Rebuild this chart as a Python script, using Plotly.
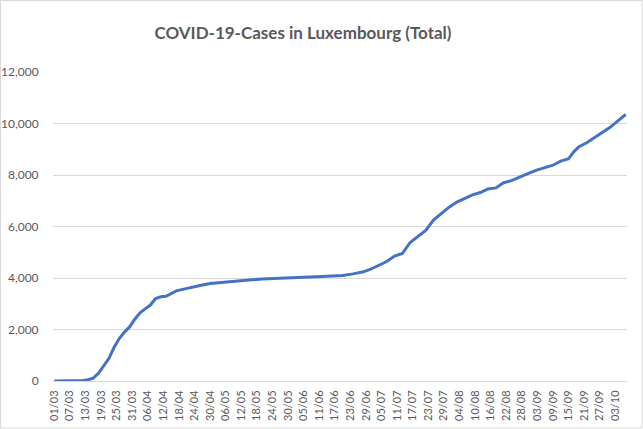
import plotly.graph_objects as go

dates = [
    "2020-03-01", "2020-03-05", "2020-03-09", "2020-03-12", "2020-03-14", "2020-03-16",
    "2020-03-18", "2020-03-20", "2020-03-22", "2020-03-24", "2020-03-26", "2020-03-28",
    "2020-03-30", "2020-04-01", "2020-04-03", "2020-04-05", "2020-04-07", "2020-04-09",
    "2020-04-11", "2020-04-13", "2020-04-15", "2020-04-17", "2020-04-19", "2020-04-21",
    "2020-04-24", "2020-04-27", "2020-04-30", "2020-05-04", "2020-05-08", "2020-05-12",
    "2020-05-16", "2020-05-20", "2020-05-25", "2020-05-31", "2020-06-05", "2020-06-10",
    "2020-06-15", "2020-06-20", "2020-06-24", "2020-06-28", "2020-07-01", "2020-07-04",
    "2020-07-07", "2020-07-10", "2020-07-13", "2020-07-16", "2020-07-19", "2020-07-22",
    "2020-07-25", "2020-07-28", "2020-07-31", "2020-08-03", "2020-08-06", "2020-08-09",
    "2020-08-12", "2020-08-15", "2020-08-18", "2020-08-21", "2020-08-24", "2020-08-27",
    "2020-08-31", "2020-09-03", "2020-09-06", "2020-09-09", "2020-09-12", "2020-09-15",
    "2020-09-17", "2020-09-19", "2020-09-22", "2020-09-25", "2020-09-28", "2020-10-01",
    "2020-10-04", "2020-10-07",
]
cases = [
    1, 2, 5, 20, 50, 110,
    300, 600, 870, 1300, 1650, 1900,
    2100, 2400, 2650, 2800, 2950, 3200,
    3270, 3290, 3400, 3500, 3550, 3600,
    3680, 3730, 3790, 3830, 3870, 3900,
    3930, 3960, 3990, 4010, 4030, 4050,
    4070, 4100, 4160, 4240, 4350, 4500,
    4640, 4850, 4950, 5380, 5600, 5850,
    6250, 6500, 6750, 6950, 7100, 7230,
    7320, 7460, 7500, 7700, 7780, 7920,
    8080, 8200, 8300, 8380, 8540, 8630,
    8900, 9100, 9250, 9450, 9650, 9850,
    10100, 10350,
]
title_text = "COVID-19-Cases in Luxembourg (Total)"
y_ticks = [0, 2000, 4000, 6000, 8000, 10000, 12000]

W, H = 643, 429
ML, MR, MT, MB = 53, 16, 72, 48
grey = "#595959"

fig = go.Figure()
fig.add_trace(go.Scatter(
    x=dates, y=cases, mode="lines",
    line=dict(color="#4472C4", width=3),
    showlegend=False, hoverinfo="skip",
))

pw = W - ML - MR
ph = H - MT - MB
fig.add_shape(
    type="rect", xref="paper", yref="paper",
    x0=(-ML + 0.5) / pw, x1=(pw + MR - 1) / pw,
    y0=(-MB + 1) / ph, y1=(ph + MT - 0.5) / ph,
    line=dict(color="#d9d9d9", width=1), fillcolor="rgba(0,0,0,0)", layer="below",
)

fig.update_layout(
    width=W, height=H,
    margin=dict(l=ML, r=MR, t=MT, b=MB, pad=0, autoexpand=False),
    paper_bgcolor="white", plot_bgcolor="white",
    font=dict(family="Lato, Open Sans, sans-serif", color=grey, size=12),
    title=dict(
        text="<b>" + title_text + "</b>",
        font=dict(family="Lato, Open Sans, sans-serif", size=17, color=grey),
        x=303 / W, xanchor="center", y=1 - 33 / H, yanchor="middle",
        xref="container", yref="container",
    ),
    xaxis=dict(
        type="date", automargin=False,
        range=["2020-02-29 12:00", "2020-10-07 12:00"],
        tick0="2020-03-01", dtick=6 * 24 * 3600 * 1000,
        tickformat="%d/%m", tickangle=-90,
        showgrid=False, zeroline=False,
        showline=False, ticks="outside", ticklen=4, tickcolor="rgba(0,0,0,0)",
        tickfont=dict(size=11, color=grey),
    ),
    yaxis=dict(
        automargin=False,
        range=[0, 12000],
        tickvals=y_ticks, tickformat=",",
        showgrid=True, gridcolor="#d9d9d9", gridwidth=1,
        zeroline=True, zerolinecolor="#d9d9d9", zerolinewidth=1,
        ticks="outside", ticklen=11, tickcolor="rgba(0,0,0,0)",
        tickfont=dict(size=12, color=grey),
    ),
)

fig.write_html(
    "out.html",
    config={"displayModeBar": False, "responsive": False},
    post_script=(
        "document.documentElement.style.margin='0';"
        "document.documentElement.style.overflow='hidden';"
        "document.body.style.margin='0';document.body.style.padding='0';"
        "document.body.style.overflow='hidden';"
    ),
)
